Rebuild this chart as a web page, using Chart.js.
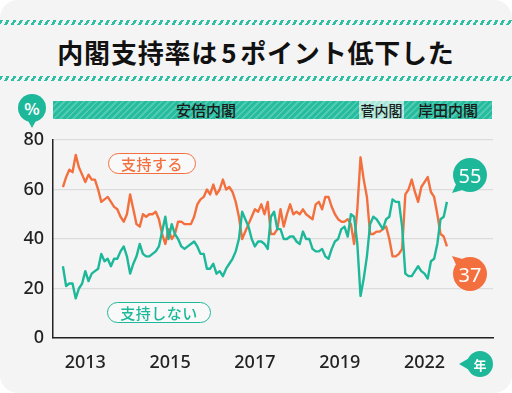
<!DOCTYPE html>
<html><head><meta charset="utf-8">
<script src="https://cdn.jsdelivr.net/npm/chart.js@4/dist/chart.umd.min.js"></script>
<style>
html,body{margin:0;padding:0;width:512px;height:393px;overflow:hidden;background:#fff;font-family:"Noto Sans CJK JP","Noto Sans",sans-serif;}
.abs{position:absolute;}
#card{left:0;top:0;width:512px;height:393px;background:#f4f4f4;border-radius:18px;}
.dash{left:0;width:512px;height:5px;background:repeating-linear-gradient(120deg,#2fbfa5 0 2.6px,transparent 2.6px 5.8px);}
#title{left:0;top:32px;width:512px;text-align:center;font-size:26px;font-weight:700;color:#111;letter-spacing:0.8px;line-height:40px;}
.band{top:101px;height:18px;display:flex;align-items:center;justify-content:center;font-size:15px;font-weight:500;color:#1a1a1a;line-height:18px;}
.teal{background:repeating-linear-gradient(135deg,#28bc9f 0 3px,#4fcab3 3px 4.6px);}
.light{background:repeating-linear-gradient(135deg,#a9e5d8 0 3px,#c3eee4 3px 4.6px);}
.circle{border-radius:50%;display:flex;align-items:center;justify-content:center;color:#fff;}
.tail{left:0;top:0;width:512px;height:393px;}
.pill{height:19px;border-radius:12px;background:#f9f9f9;display:flex;align-items:center;justify-content:center;font-size:15px;font-weight:500;letter-spacing:0.5px;}
</style></head>
<body>
<div id="card" class="abs"></div>
<div class="abs dash" style="top:20px"></div>
<div class="abs dash" style="top:76px"></div>
<div id="title" class="abs">内閣支持率は<span style="margin:0 3px">5</span>ポイント低下した</div>

<div class="abs band teal" style="left:53px;width:306px">安倍内閣</div>
<div class="abs band light" style="left:359px;width:45px;font-size:14px">菅内閣</div>
<div class="abs band teal" style="left:404px;width:88px">岸田内閣</div>

<div class="abs tail" style="background:#1db89a;clip-path:polygon(32px 128px,26px 117px,38px 117px)"></div>
<div class="abs circle" style="left:18px;top:94px;width:28px;height:28px;background:#1db89a;font-size:16px;font-weight:700">%</div>

<div style="position:absolute;left:0;top:0;width:512px;height:393px"><canvas id="c" width="512" height="393"></canvas></div>

<div class="abs pill" style="left:108px;top:153px;width:86px;border:1.6px solid #f3703e;color:#f3703e">支持する</div>
<div class="abs pill" style="left:107px;top:302px;width:102px;border:1.6px solid #1db89a;color:#1db89a">支持しない</div>

<div class="abs tail" style="background:#1db89a;clip-path:polygon(452px 193px,458px 180px,466px 189px)"></div>
<div id="b55" class="abs circle" style="left:453px;top:158px;width:34px;height:34px;background:#1db89a;font-size:20px;font-family:'Noto Sans',sans-serif"></div>
<div class="abs tail" style="background:#f3703e;clip-path:polygon(452px 256px,466px 260px,458px 269px)"></div>
<div id="b37" class="abs circle" style="left:453px;top:257px;width:34px;height:34px;background:#f3703e;font-size:20px;font-family:'Noto Sans',sans-serif"></div>

<div class="abs tail" style="background:#1db89a;clip-path:polygon(459px 364px,471px 357px,471px 371px)"></div>
<div class="abs circle" style="left:467px;top:351px;width:26px;height:26px;background:#1db89a;font-size:13px;font-weight:700">年</div>

<script>
// 支持する (approve) – monthly
const approve = [61,65,68,67,74,69,66,63,66,64,
64,60,55,56,57,55,53,52,49,47,
50,58,52,46,45,50,49,50,50,51,
48,42,38,44,40,42,47,47,46,46,
46,49,54,56,57,60,58,62,58,60,
64,60,61,59,55,49,40,43,46,49,
52,51,54,50,55,42,42,44,52,45,
50,54,50,51,50,52,50,49,48,54,
55,52,57,57,53,50,48,47,47,48,
46,38,52,73,64,57,42,42,43,43,
44,45,40,33,33,34,36,58,60,64,
59,55,61,63,65,59,57,50,42,41,
37];
// 支持しない (disapprove) – monthly
const disapprove = [29,21,22,22,16,20,22,27,23,26,
27,28,34,31,32,29,32,32,35,37,
33,26,30,33,38,34,33,33,34,35,
37,43,49,40,46,42,40,37,36,37,
38,39,37,34,34,28,28,30,26,27,
25,28,30,32,35,40,51,48,45,40,
37,39,39,38,36,49,51,44,44,40,
40,41,41,39,38,43,40,40,36,35,
35,36,33,32,36,39,40,44,45,41,
50,49,38,17,24,33,46,49,48,46,
44,48,49,56,55,55,45,26,25,25,
27,29,27,26,24,31,32,38,48,49,
55];
const yearTickPos = [7, 33.5, 60, 86.5, 113];
const yearLabels = ['2013','2015','2017','2019','2022'];
const yTicks = [0,20,40,60,80];

const ORANGE = '#f3703e', TEAL = '#1db89a';
document.getElementById('b55').textContent = disapprove[disapprove.length-1];
document.getElementById('b37').textContent = approve[approve.length-1];

new Chart(document.getElementById('c'), {
  type: 'line',
  data: {
    datasets: [
      {label:'支持しない', data: disapprove.map((v,i)=>({x:i,y:v})), borderColor:TEAL, borderWidth:2.4, pointRadius:0, tension:0, borderJoinStyle:'round'},
      {label:'支持する', data: approve.map((v,i)=>({x:i,y:v})), borderColor:ORANGE, borderWidth:2.4, pointRadius:0, tension:0, borderJoinStyle:'round'}
    ]
  },
  options: {
    responsive:false, animation:false, devicePixelRatio:1,
    layout:{padding:{top:140,right:19,left:0,bottom:0}},
    plugins:{legend:{display:false}, tooltip:{enabled:false}},
    scales:{
      x:{type:'linear', min:-3.1, max:134.4,
        grid:{display:false},
        border:{display:true,color:'#222',width:1.5},
        afterBuildTicks:s=>{s.ticks = yearTickPos.map(v=>({value:v}));},
        afterFit:s=>{s.height = 55;},
        ticks:{autoSkip:false,maxRotation:0,padding:6,color:'#222',
          font:{family:'"Noto Sans", sans-serif',size:18,weight:'500'},
          callback:v=>{const k=yearTickPos.indexOf(v);return k>=0?yearLabels[k]:'';}}
      },
      y:{min:0,max:80,
        afterBuildTicks:s=>{s.ticks = yTicks.map(v=>({value:v}));},
        afterFit:s=>{s.width = 53;},
        grid:{color:'#dcdcdc',lineWidth:1.2,drawTicks:false},
        border:{display:true,color:'#222',width:1.5},
        ticks:{padding:9,color:'#222',font:{family:'"Noto Sans", sans-serif',size:18,weight:'500'}}
      }
    }
  }
});
</script>
</body></html>
